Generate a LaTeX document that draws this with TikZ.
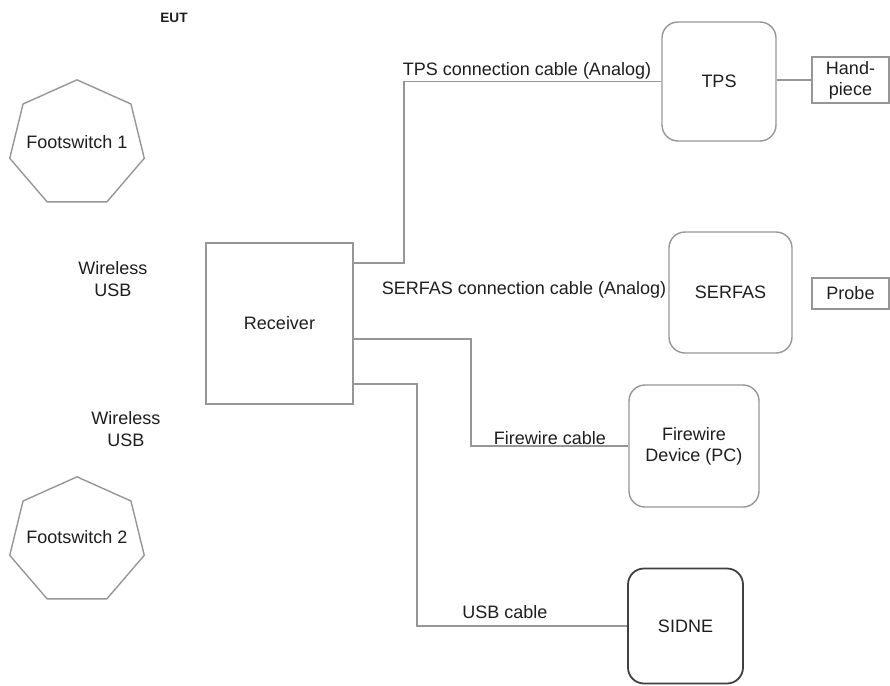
\documentclass[tikz,border=0pt]{standalone}
\usepackage{fontspec}
\setmainfont{Liberation Sans}
\usetikzlibrary{shapes.geometric}
\definecolor{linegray}{RGB}{150,150,150}
\definecolor{txtgray}{RGB}{30,30,30}
\tikzset{
  lbl/.style={text=txtgray,align=center,font=\fontsize{9}{10.5}\selectfont},
  part/.style={lbl,draw=linegray,line width=0.7pt,inner sep=1pt},
  dev/.style={part,rounded corners=8pt},
  fsw/.style={draw=linegray,line width=0.7pt,regular polygon,regular polygon sides=7,minimum size=69pt,inner sep=0pt,yscale=0.93},
  cable/.style={draw=linegray,line width=0.7pt}
}
\begin{document}
\begin{tikzpicture}[x=0.5pt,y=-0.5pt]
\useasboundingbox (0,0) rectangle (890,686);
\node[lbl,font=\bfseries\fontsize{6.8}{8}\selectfont](NEUT) at (174,18){EUT};
\node[fsw](NFS1) at (77,144){};
\node[lbl](NT1) at (77,142){Footswitch 1};
\node[fsw](NFS2) at (77,541){};
\node[lbl](NT2) at (77,537){Footswitch 2};
\node[lbl,font=\fontsize{9}{11}\selectfont](NW1) at (113,279){Wireless\\USB};
\node[lbl,font=\fontsize{9}{11}\selectfont](NW2) at (126,429){Wireless\\USB};
\node[part,minimum width=73.5pt,minimum height=80.5pt](NRX) at (279.5,323.5){Receiver};
\node[dev,minimum width=57pt,minimum height=59.5pt](NTPS) at (719,81.5){TPS};
\node[part,minimum width=38.5pt,minimum height=23pt](NHP) at (850.5,80){Hand-\\piece};
\node[dev,minimum width=61.5pt,minimum height=60.5pt](NSF) at (730.5,292.5){SERFAS};
\node[part,minimum width=38.5pt,minimum height=15.5pt](NPR) at (850.5,293.5){Probe};
\node[dev,minimum width=65pt,minimum height=61pt](NFW) at (694,446){Firewire\\Device (PC)};
\node[dev,draw=black!75,line width=0.9pt,minimum width=57.5pt,minimum height=57.5pt](NSD) at (685.5,626){SIDNE};
\node[lbl](NL1) at (527,71){TPS connection cable (Analog)};
\node[lbl](NL2) at (524,290){SERFAS connection cable (Analog)};
\node[lbl](NL3) at (550,438){Firewire cable};
\node[lbl](NL4) at (505,612){USB cable};
\coordinate (C1) at (404,263);
\coordinate (C2) at (471,339);
\coordinate (C3) at (417,384);
\draw[cable] (C1 -| NRX.east) -- (C1) |- (NTPS.west);
\draw[cable] (C2 -| NRX.east) -- (C2) |- (NFW.west);
\draw[cable] (C3 -| NRX.east) -- (C3) |- (NSD.west);
\draw[cable] (NTPS.east |- NHP.west) -- (NHP.west);
\end{tikzpicture}
\end{document}
